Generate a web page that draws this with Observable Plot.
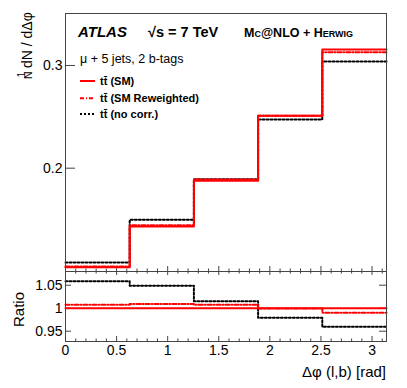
<!DOCTYPE html>
<html><head><meta charset="utf-8">
<script src="https://cdn.jsdelivr.net/npm/d3@7"></script>
<script src="https://cdn.jsdelivr.net/npm/@observablehq/plot@0.6"></script>
<style>
body{margin:0;background:#fff;}
#chart{position:relative;width:407px;height:388px;font-family:"Liberation Sans",Arial,sans-serif;}
#chart svg{position:absolute;left:0;overflow:visible;}
</style></head><body><div id="chart"></div>
<script>
// ---- data ----
const binEdges = [0, 0.6283, 1.2566, 1.8850, 2.5133, 3.1416];
const smValues = [0.1036, 0.1432, 0.1877, 0.2510, 0.3156];
const smReweighted = [0.1043, 0.1445, 0.1890, 0.2510, 0.3128];
const noCorr = [0.1082, 0.1497, 0.1893, 0.2474, 0.3039];
const ratioSM = [1, 1, 1, 1, 1];
const ratioReweighted = [1.0073, 1.0094, 1.0073, 0.9995, 0.9900];
const ratioNoCorr = [1.0587, 1.0490, 1.0150, 0.9790, 0.9596];
const topYTicks = [0.2, 0.3];
const ratioYTicks = [0.95, 1, 1.05];
const xMajorTicks = [0, 0.5, 1, 1.5, 2, 2.5, 3];
const xMinorTicks = [0.1,0.2,0.3,0.4,0.6,0.7,0.8,0.9,1.1,1.2,1.3,1.4,1.6,1.7,1.8,1.9,2.1,2.2,2.3,2.4,2.6,2.7,2.8,2.9,3.1];
const legendLabels = ["tt\u0304 (SM)", "tt\u0304 (SM Reweighted)", "tt\u0304 (no corr.)"];

function steps(vals) {
  const pts = vals.map((v, i) => ({x: binEdges[i], y: v}));
  pts.push({x: binEdges[binEdges.length - 1], y: vals[vals.length - 1]});
  return pts;
}

const FONT = '"Liberation Sans", Arial, Helvetica, sans-serif';
const frameColor = "#444";
const W = 407, ML = 65, MR = 21;
const innerW = W - ML - MR;
const xDomain = [binEdges[0], binEdges[binEdges.length - 1]];

const styleSM = {stroke: "#ff0000", strokeWidth: 2};
const styleRew = {stroke: "#ff0000", strokeWidth: 2, strokeDasharray: "4,2,1,2"};
const styleNo = {stroke: "#000", strokeWidth: 2, strokeDasharray: "2,2"};

// ---- top panel ----
const topH = 271, topMT = 13;
const topInnerH = topH - topMT;
const topPlot = Plot.plot({
  width: W, height: topH, marginTop: topMT, marginBottom: 0, marginLeft: ML, marginRight: MR,
  style: {fontFamily: FONT, fontSize: "14px", background: "transparent", overflow: "visible"},
  x: {domain: xDomain, axis: null},
  y: {domain: [0.0994, 0.3506]},
  marks: [
    Plot.axisY({ticks: topYTicks, tickSize: 0, tickPadding: 3, label: null, fontSize: 14, tickFormat: d => String(d)}),
    Plot.tickY(topYTicks, {y: d => d, insetRight: innerW - 10, stroke: frameColor}),
    Plot.tickX(xMajorTicks, {x: d => d, insetTop: topInnerH - 5, stroke: frameColor}),
    Plot.tickX(xMinorTicks, {x: d => d, insetTop: topInnerH - 2.5, stroke: frameColor}),
    Plot.line(steps(noCorr), {x: "x", y: "y", curve: "step-after", ...styleNo}),
    Plot.line(steps(smValues), {x: "x", y: "y", curve: "step-after", ...styleSM}),
    Plot.line(steps(smReweighted), {x: "x", y: "y", curve: "step-after", ...styleRew}),
    Plot.frame({stroke: frameColor, strokeWidth: 1})
  ]
});
topPlot.style.top = "0px";

// ---- ratio panel ----
const rH = 117, rMB = 47;
const rInnerH = rH - rMB;
const ratioPlot = Plot.plot({
  width: W, height: rH, marginTop: 0, marginBottom: rMB, marginLeft: ML, marginRight: MR,
  style: {fontFamily: FONT, fontSize: "14px", background: "transparent", overflow: "visible"},
  x: {domain: xDomain},
  y: {domain: [0.9276, 1.0798]},
  marks: [
    Plot.axisY({ticks: ratioYTicks, tickSize: 0, tickPadding: 3, label: null, fontSize: 14, tickFormat: d => String(d)}),
    Plot.axisX({ticks: xMajorTicks, tickSize: 0, tickPadding: 4, label: null, fontSize: 14, tickFormat: d => String(d)}),
    Plot.tickY(ratioYTicks, {y: d => d, insetRight: innerW - 6, stroke: frameColor}),
    Plot.tickY(ratioYTicks, {y: d => d, insetLeft: innerW - 7, stroke: frameColor}),
    Plot.tickX(xMajorTicks, {x: d => d, insetBottom: rInnerH - 4, stroke: frameColor}),
    Plot.tickX(xMinorTicks, {x: d => d, insetBottom: rInnerH - 2.5, stroke: frameColor}),
    Plot.tickX(xMajorTicks, {x: d => d, insetTop: rInnerH - 5, stroke: frameColor}),
    Plot.tickX(xMinorTicks, {x: d => d, insetTop: rInnerH - 2.5, stroke: frameColor}),
    Plot.line(steps(ratioNoCorr), {x: "x", y: "y", curve: "step-after", ...styleNo}),
    Plot.line(steps(ratioSM), {x: "x", y: "y", curve: "step-after", ...styleSM}),
    Plot.line(steps(ratioReweighted), {x: "x", y: "y", curve: "step-after", ...styleRew}),
    Plot.frame({stroke: frameColor, strokeWidth: 1})
  ]
});
ratioPlot.style.top = topH + "px";

const chart = document.getElementById("chart");
chart.appendChild(topPlot);
chart.appendChild(ratioPlot);

// ---- annotations ----
function txt(sel, x, y, s, o = {}) {
  return sel.append("text").attr("x", x).attr("y", y)
    .attr("font-family", FONT)
    .attr("font-size", o.size || 14)
    .attr("font-weight", o.weight || "normal")
    .attr("font-style", o.style || "normal")
    .attr("font-variant", o.variant || "normal")
    .attr("text-anchor", o.anchor || "start")
    .attr("fill", "#000")
    .text(s);
}
const st = d3.select(topPlot);
txt(st, 78, 36.5, "ATLAS", {size: 15, weight: "bold", style: "italic"});
txt(st, 148, 36.5, "\u221As = 7 TeV", {size: 14.5, weight: "bold"});
txt(st, 244, 36.5, "Mc@NLO + Herwig", {size: 12.5, weight: "bold", variant: "small-caps"});
txt(st, 80, 63, "\u03BC + 5 jets, 2 b-tags", {size: 12.5});

const legendStyles = [styleSM, styleRew, styleNo];
const legendLineY = [81, 98.3, 114];
const legendTextY = [85, 102, 118];
legendLabels.forEach((lab, i) => {
  const s = legendStyles[i];
  st.append("line").attr("x1", 80).attr("x2", 95).attr("y1", legendLineY[i]).attr("y2", legendLineY[i])
    .attr("stroke", s.stroke).attr("stroke-width", s.strokeWidth)
    .attr("stroke-dasharray", s.strokeDasharray || null);
  txt(st, 100, legendTextY[i], lab, {size: 11, weight: "bold"});
});

// y label 1/N dN/dΔφ
const yl = st.append("g").attr("transform", "translate(32,79) rotate(-90)");
txt(yl, 0, 0, "N", {size: 10.5});
txt(yl, 1.5, -7.5, "1", {size: 10.5});
txt(yl, 11, 0, "dN / d\u0394\u03C6", {size: 14});

const sr = d3.select(ratioPlot);
txt(sr, 0, 0, "Ratio", {size: 15, anchor: "middle"}).attr("transform", "translate(24,38.5) rotate(-90)");
txt(sr, 386, 106, "\u0394\u03C6 (l,b) [rad]", {size: 15, anchor: "end"});
</script>
</body></html>
